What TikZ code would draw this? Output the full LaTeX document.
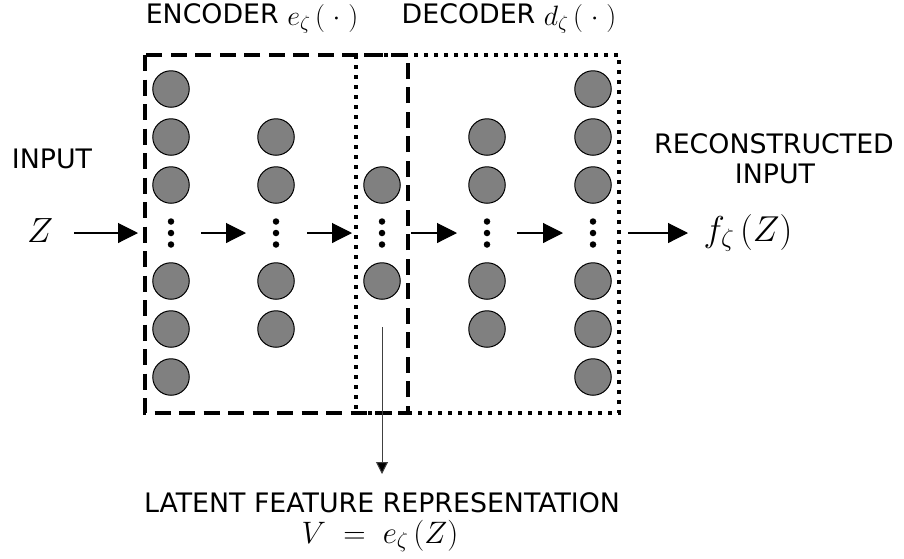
\RequirePackage{fix-cm}
\documentclass[tikz,border=0pt]{standalone}
\usepackage{fontspec}
\setsansfont{DejaVu Sans}
\usetikzlibrary{arrows.meta}
\begin{document}
\begin{tikzpicture}[x=1pt,y=-1pt,
  neuron/.style={circle, draw=black, line width=1pt, fill=black!50, minimum size=36.5pt, inner sep=0pt},
  vdot/.style={circle, fill=black, minimum size=6.5pt, inner sep=0pt},
  flow/.style={line width=1.1pt, -{Triangle[length=20pt,width=20pt]}},
  latflow/.style={line width=1pt, draw=black!75, -{Triangle[length=12pt,width=12pt,fill=black]}},
  encbox/.style={line width=4.5pt, dash pattern=on 16pt off 8.5pt},
  decbox/.style={line width=4pt, dash pattern=on 4pt off 6pt},
  lbl/.style={font=\sffamily\fontsize{26.8}{30}\selectfont, inner sep=0pt, anchor=base}
]
\useasboundingbox (0,0) rectangle (904,558);

% boxes
\draw[decbox] (356,55) rectangle (619,413);
\draw[encbox] (145,55) rectangle (408,413);

% neurons
\foreach \name/\x/\rows in {a/171/{89,137,185,281,329,377},
                             b/276/{137,185,281,329},
                             c/382/{185,281},
                             d/487/{137,185,281,329},
                             e/593/{89,137,185,281,329,377}}{
  \foreach \y [count=\i] in \rows {
    \node[neuron] (\name\i) at (\x,\y) {};
  }
  \node[vdot] (\name d1) at (\x,221.5) {};
  \node[vdot] (\name d2) at (\x,233) {};
  \node[vdot] (\name d3) at (\x,244.5) {};
}

% labels
\node[lbl] (enc) at (252,23) {ENCODER \raisebox{-2.5pt}{\fontsize{28}{33}\selectfont$e_\zeta\,(\;\cdot\;)$}};
\node[lbl] (dec) at (509,23) {DECODER \raisebox{-2.5pt}{\fontsize{28}{33}\selectfont$d_\zeta\,(\;\cdot\;)$}};
\node[lbl] (inp) at (52,168) {INPUT};
\node[lbl] (rec1) at (774,153) {RECONSTRUCTED};
\node[lbl] (rec2) at (775,183) {INPUT};
\node[lbl] (lat) at (382,512) {LATENT FEATURE REPRESENTATION};
\node[inner sep=0pt, anchor=base] (veq) at (380,543) {\fontsize{31}{36}\selectfont$V\;=\;e_\zeta\,(Z)$};
\node[inner sep=0pt, anchor=base] (Z) at (40,242) {\fontsize{35}{40}\selectfont$Z$};
\node[inner sep=0pt, anchor=base] (fz) at (748,241) {\fontsize{36}{40}\selectfont$f_\zeta\,(Z)$};

% arrow end points
\coordinate (s0) at (74,233);  \coordinate (t0) at (138,233);
\coordinate (s1) at (201,233); \coordinate (t1) at (246,233);
\coordinate (s2) at (307,233); \coordinate (t2) at (352,233);
\coordinate (s3) at (411,233); \coordinate (t3) at (457,233);
\coordinate (s4) at (517,233); \coordinate (t4) at (563,233);
\coordinate (s5) at (628,233); \coordinate (t5) at (688,233);
\coordinate (ls) at (382,327); \coordinate (lt) at (382,474);

\draw[flow] (s0) -- (t0);
\draw[flow] (s1) -- (t1);
\draw[flow] (s2) -- (t2);
\draw[flow] (s3) -- (t3);
\draw[flow] (s4) -- (t4);
\draw[flow] (s5) -- (t5);
\draw[latflow] (ls) -- (lt);
\end{tikzpicture}
\end{document}
